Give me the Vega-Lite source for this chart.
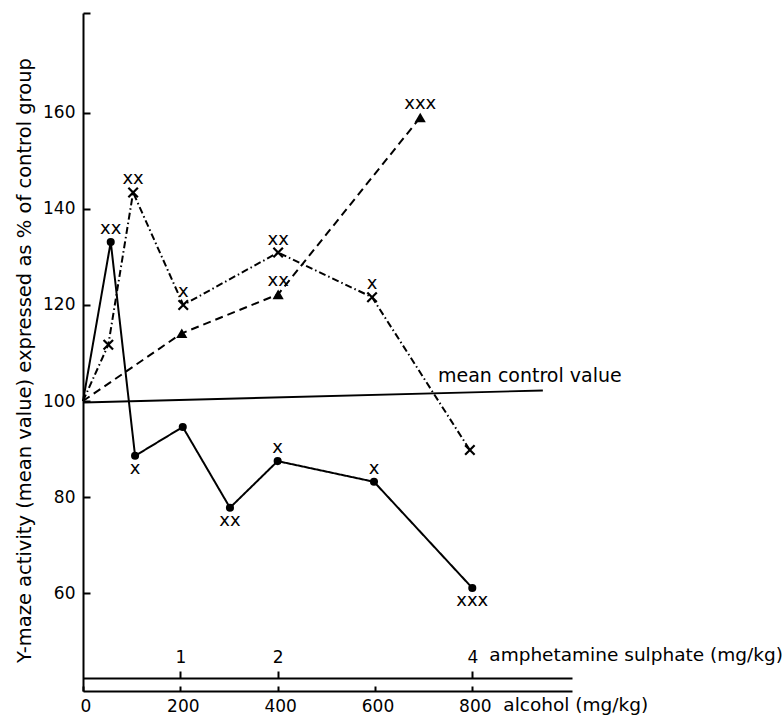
{
  "$schema": "https://vega.github.io/schema/vega-lite/v6.json",
  "autosize": {"type": "none"},
  "width": 489,
  "height": 678,
  "padding": {"left": 83, "top": 13, "right": 212, "bottom": 28},
  "background": "white",
  "config": {
    "view": {"stroke": null},
    "font": "DejaVu Sans",
    "axis": {
      "domainColor": "black", "tickColor": "black", "labelColor": "black", "titleColor": "black",
      "grid": false, "domainWidth": 2, "tickWidth": 2,
      "labelFont": "DejaVu Sans", "titleFont": "DejaVu Sans", "titleFontWeight": "normal"
    }
  },
  "datasets": {
    "series": [
      {"series": "alcohol", "alcohol": 0, "value": 100, "sig": "", "pos": ""},
      {"series": "alcohol", "alcohol": 57, "value": 133.1, "sig": "xx", "pos": "above"},
      {"series": "alcohol", "alcohol": 107, "value": 88.6, "sig": "x", "pos": "below"},
      {"series": "alcohol", "alcohol": 205, "value": 94.6, "sig": "", "pos": ""},
      {"series": "alcohol", "alcohol": 302, "value": 77.8, "sig": "xx", "pos": "below"},
      {"series": "alcohol", "alcohol": 400, "value": 87.5, "sig": "x", "pos": "above"},
      {"series": "alcohol", "alcohol": 598, "value": 83.2, "sig": "x", "pos": "above"},
      {"series": "alcohol", "alcohol": 800, "value": 61.1, "sig": "xxx", "pos": "below"},
      {"series": "alcohol + amphetamine", "alcohol": 0, "value": 100, "sig": "", "pos": ""},
      {"series": "alcohol + amphetamine", "alcohol": 52, "value": 111.7, "sig": "", "pos": ""},
      {"series": "alcohol + amphetamine", "alcohol": 103, "value": 143.4, "sig": "xx", "pos": "above"},
      {"series": "alcohol + amphetamine", "alcohol": 206, "value": 120.0, "sig": "x", "pos": "above"},
      {"series": "alcohol + amphetamine", "alcohol": 401, "value": 130.9, "sig": "xx", "pos": "above"},
      {"series": "alcohol + amphetamine", "alcohol": 594, "value": 121.6, "sig": "x", "pos": "above"},
      {"series": "alcohol + amphetamine", "alcohol": 795, "value": 89.8, "sig": "", "pos": ""},
      {"series": "amphetamine", "alcohol": 0, "value": 100, "sig": "", "pos": ""},
      {"series": "amphetamine", "alcohol": 203, "value": 114.1, "sig": "", "pos": ""},
      {"series": "amphetamine", "alcohol": 401, "value": 122.2, "sig": "xx", "pos": "above"},
      {"series": "amphetamine", "alcohol": 693, "value": 159.0, "sig": "xxx", "pos": "above"}
    ],
    "control": [
      {"label": "mean control value", "alcohol": 0, "value": 99.7, "alcohol_end": 945, "value_end": 102.2}
    ],
    "amph": [
      {"amphetamine": 1}, {"amphetamine": 2}, {"amphetamine": 4}
    ]
  },
  "layer": [
    {
      "data": {"name": "series"},
      "encoding": {
        "x": {
          "field": "alcohol", "type": "quantitative",
          "scale": {"domain": [0, 1004.9], "nice": false, "zero": false},
          "axis": {
            "orient": "bottom", "values": [0, 200, 400, 600, 800], "title": null,
            "tickSize": -5, "labelPadding": 12, "labelFlush": false, "labelOffset": 2.5,
            "labelFontSize": 17, "format": "d"
          }
        },
        "y": {
          "field": "value", "type": "quantitative",
          "scale": {"domain": [39.67, 180.74], "nice": false, "zero": false},
          "axis": {
            "values": [60, 80, 100, 120, 140, 160, 180.74],
            "labelExpr": "datum.value > 170 ? '' : datum.label",
            "tickSize": -7, "labelPadding": 15, "labelFontSize": 17,
            "title": "Y-maze activity (mean value) expressed as % of control group",
            "titleFontSize": 19.5, "titleX": -53, "titleY": 347, "titleAngle": -90,
            "titleBaseline": "alphabetic", "titleAlign": "center"
          }
        }
      },
      "layer": [
        {
          "data": {"name": "control"},
          "mark": {"type": "rule", "color": "black", "strokeWidth": 1.9},
          "encoding": {"x2": {"field": "alcohol_end"}, "y2": {"field": "value_end"}}
        },
        {
          "data": {"name": "control"},
          "mark": {"type": "text", "fontSize": 19, "align": "left", "baseline": "alphabetic", "color": "black"},
          "encoding": {
            "x": {"datum": 729.5, "type": "quantitative"},
            "y": {"datum": 104.0, "type": "quantitative"},
            "text": {"field": "label", "type": "nominal"}
          }
        },
        {
          "mark": {"type": "line", "color": "black", "strokeWidth": 2},
          "encoding": {
            "detail": {"field": "series", "type": "nominal"},
            "strokeDash": {
              "field": "series", "type": "nominal",
              "scale": {"domain": ["alcohol", "alcohol + amphetamine", "amphetamine"], "range": [[1, 0], [7, 3, 1.5, 3], [8, 5]]},
              "legend": null
            }
          }
        },
        {
          "transform": [{"filter": "datum.series == 'alcohol' && datum.alcohol > 0"}],
          "mark": {"type": "point", "shape": "circle", "filled": true, "color": "black", "size": 65, "opacity": 1},
          "encoding": {}
        },
        {
          "transform": [{"filter": "datum.series == 'alcohol + amphetamine' && datum.alcohol > 0"}],
          "mark": {"type": "point", "shape": "M-1,-1L1,1M-1,1L1,-1", "filled": false, "color": "black", "strokeWidth": 2.2, "size": 90, "opacity": 1},
          "encoding": {}
        },
        {
          "transform": [{"filter": "datum.series == 'amphetamine' && datum.alcohol > 0"}],
          "mark": {"type": "point", "shape": "triangle-up", "filled": true, "color": "black", "size": 125, "opacity": 1},
          "encoding": {}
        },
        {
          "transform": [{"filter": "datum.pos == 'above'"}],
          "mark": {"type": "text", "fontSize": 18, "dy": -13, "baseline": "middle", "align": "center", "color": "black"},
          "encoding": {"text": {"field": "sig", "type": "nominal"}}
        },
        {
          "transform": [{"filter": "datum.pos == 'below'"}],
          "mark": {"type": "text", "fontSize": 18, "dy": 13, "baseline": "middle", "align": "center", "color": "black"},
          "encoding": {"text": {"field": "sig", "type": "nominal"}}
        }
      ]
    },
    {
      "data": {"name": "amph"},
      "layer": [
        {
          "mark": {"type": "point", "opacity": 0},
          "encoding": {
            "x": {
              "field": "amphetamine", "type": "quantitative",
              "scale": {"domain": [0, 5.0245], "nice": false, "zero": false},
              "axis": {
                "orient": "top", "offset": -665, "values": [1, 2, 4], "title": null,
                "tickSize": 7, "labelPadding": 5, "labelFontSize": 17, "labelFlush": false, "format": "d"
              }
            }
          }
        },
        {
          "transform": [{"filter": "datum.amphetamine == 4"}],
          "mark": {"type": "text", "fontSize": 18.5, "align": "left", "baseline": "alphabetic", "color": "black", "dx": 17},
          "encoding": {
            "x": {"field": "amphetamine", "type": "quantitative"},
            "y": {"datum": 45.9, "type": "quantitative", "scale": {"domain": [39.67, 180.74], "nice": false, "zero": false}},
            "text": {"value": "amphetamine sulphate (mg/kg)"}
          }
        }
      ]
    },
    {
      "data": {"values": [{"unit": "alcohol (mg/kg)", "alcohol": 800}]},
      "mark": {"type": "text", "fontSize": 18.5, "align": "left", "baseline": "alphabetic", "color": "black", "dx": 31, "dy": 20},
      "encoding": {
        "x": {"field": "alcohol", "type": "quantitative", "scale": {"domain": [0, 1004.9], "nice": false, "zero": false}, "axis": null},
        "y": {"datum": 39.67, "type": "quantitative", "scale": {"domain": [39.67, 180.74], "nice": false, "zero": false}},
        "text": {"field": "unit", "type": "nominal"}
      }
    }
  ],
  "resolve": {"scale": {"x": "independent"}, "axis": {"x": "independent"}}
}
